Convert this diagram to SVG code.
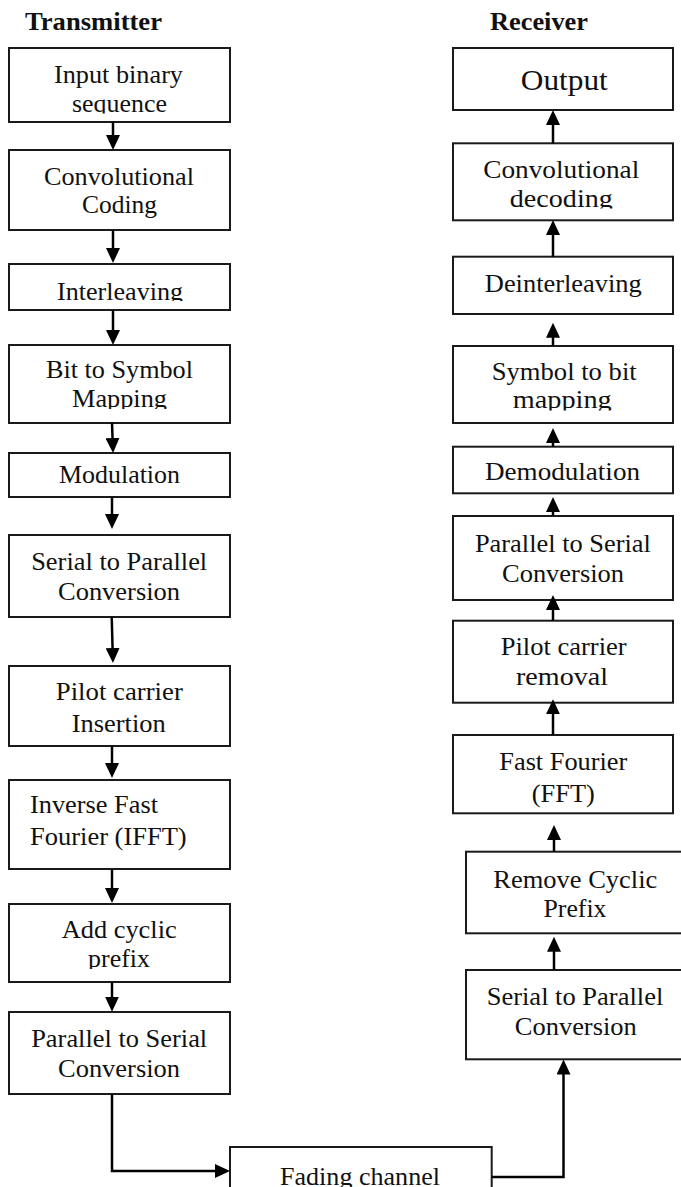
<svg xmlns="http://www.w3.org/2000/svg" width="681" height="1187" viewBox="0 0 681 1187">
<style>
.box{fill:#fff;stroke:#1a1a1a;stroke-width:2}
.t{font-family:"Liberation Serif","Times New Roman",serif;font-size:26px;fill:#111;text-anchor:middle}
.l{text-anchor:start}
.h{font-family:"Liberation Serif","Times New Roman",serif;font-size:26px;font-weight:bold;fill:#111}
.c{fill:none;stroke:#000;stroke-width:2.5;marker-end:url(#ah)}
</style>
<defs>
<marker id="ah" markerWidth="16" markerHeight="14" refX="5" refY="7" orient="auto" markerUnits="userSpaceOnUse"><path d="M0,0 L15,7 L0,14 z" fill="#000"/></marker>
<clipPath id="c1" clipPathUnits="userSpaceOnUse"><rect x="0" y="90" width="681" height="23.5"/></clipPath>
<clipPath id="c2" clipPathUnits="userSpaceOnUse"><rect x="0" y="185" width="681" height="23.5"/></clipPath>
<clipPath id="c3" clipPathUnits="userSpaceOnUse"><rect x="0" y="270" width="681" height="31"/></clipPath>
<clipPath id="c4" clipPathUnits="userSpaceOnUse"><rect x="0" y="385" width="681" height="24"/></clipPath>
<clipPath id="c5" clipPathUnits="userSpaceOnUse"><rect x="0" y="455" width="681" height="30"/></clipPath>
<clipPath id="c6" clipPathUnits="userSpaceOnUse"><rect x="0" y="385" width="681" height="25.5"/></clipPath>
<clipPath id="c7" clipPathUnits="userSpaceOnUse"><rect x="0" y="945" width="681" height="24"/></clipPath>
</defs>
<g id="headings">
<text class="h" x="25" y="30" textLength="137" lengthAdjust="spacingAndGlyphs">Transmitter</text>
<text class="h" x="490" y="30" textLength="98" lengthAdjust="spacingAndGlyphs">Receiver</text>
</g>
<g id="tx1"><rect class="box" x="9" y="48" width="221" height="74"/>
<text class="t" x="118.5" y="83.3" textLength="129" lengthAdjust="spacingAndGlyphs">Input binary</text>
<text class="t" x="119.5" y="111.5" textLength="95" lengthAdjust="spacingAndGlyphs" clip-path="url(#c1)">sequence</text></g>
<g id="tx2"><rect class="box" x="9" y="150" width="221" height="80"/>
<text class="t" x="119" y="185" textLength="150" lengthAdjust="spacingAndGlyphs">Convolutional</text>
<text class="t" x="119.5" y="213.3" textLength="75" lengthAdjust="spacingAndGlyphs">Coding</text></g>
<g id="tx3"><rect class="box" x="9" y="264" width="221" height="46"/>
<text class="t" x="120" y="300" textLength="126" lengthAdjust="spacingAndGlyphs" clip-path="url(#c3)">Interleaving</text></g>
<g id="tx4"><rect class="box" x="9" y="345" width="221" height="78"/>
<text class="t" x="119.5" y="378.3" textLength="147" lengthAdjust="spacingAndGlyphs">Bit to Symbol</text>
<text class="t" x="119.5" y="406.6" textLength="95" lengthAdjust="spacingAndGlyphs" clip-path="url(#c4)">Mapping</text></g>
<g id="tx5"><rect class="box" x="9" y="453" width="221" height="44"/>
<text class="t" x="119.5" y="483" textLength="121" lengthAdjust="spacingAndGlyphs" clip-path="url(#c5)">Modulation</text></g>
<g id="tx6"><rect class="box" x="9" y="535" width="221" height="82"/>
<text class="t" x="119.2" y="570" textLength="176" lengthAdjust="spacingAndGlyphs">Serial to Parallel</text>
<text class="t" x="119" y="600" textLength="122" lengthAdjust="spacingAndGlyphs">Conversion</text></g>
<g id="tx7"><rect class="box" x="9" y="666" width="221" height="80"/>
<text class="t" x="119.3" y="700" textLength="127" lengthAdjust="spacingAndGlyphs">Pilot carrier</text>
<text class="t" x="118.7" y="731.7" textLength="94" lengthAdjust="spacingAndGlyphs">Insertion</text></g>
<g id="tx8"><rect class="box" x="9" y="780" width="221" height="89"/>
<text class="t l" x="30" y="813" textLength="128" lengthAdjust="spacingAndGlyphs">Inverse Fast</text>
<text class="t l" x="30" y="845" textLength="156.7" lengthAdjust="spacingAndGlyphs">Fourier (IFFT)</text></g>
<g id="tx9"><rect class="box" x="9" y="904" width="221" height="78"/>
<text class="t" x="119.2" y="938" textLength="115" lengthAdjust="spacingAndGlyphs">Add cyclic</text>
<text class="t" x="119" y="966.5" textLength="62" lengthAdjust="spacingAndGlyphs" clip-path="url(#c7)">prefix</text></g>
<g id="tx10"><rect class="box" x="9" y="1012" width="221" height="82"/>
<text class="t" x="119.2" y="1046.7" textLength="176" lengthAdjust="spacingAndGlyphs">Parallel to Serial</text>
<text class="t" x="119" y="1076.7" textLength="122" lengthAdjust="spacingAndGlyphs">Conversion</text></g>
<g id="channel"><rect class="box" x="230" y="1147" width="261.7" height="60"/>
<text class="t" x="360" y="1185" textLength="160" lengthAdjust="spacingAndGlyphs">Fading channel</text></g>
<g id="rx1"><rect class="box" x="453" y="48" width="220" height="62"/>
<text class="t" x="564.3" y="90" style="font-size:30px" textLength="87" lengthAdjust="spacingAndGlyphs">Output</text></g>
<g id="rx2"><rect class="box" x="453" y="143.3" width="220" height="77"/>
<text class="t" x="561.3" y="178.3" textLength="156" lengthAdjust="spacingAndGlyphs">Convolutional</text>
<text class="t" x="561.3" y="206.7" textLength="103" lengthAdjust="spacingAndGlyphs" clip-path="url(#c2)">decoding</text></g>
<g id="rx3"><rect class="box" x="453" y="256.7" width="220" height="57.3"/>
<text class="t" x="563.3" y="291.7" textLength="157" lengthAdjust="spacingAndGlyphs">Deinterleaving</text></g>
<g id="rx4"><rect class="box" x="453" y="346" width="220" height="77"/>
<text class="t" x="564.2" y="380" textLength="145" lengthAdjust="spacingAndGlyphs">Symbol to bit</text>
<text class="t" x="562.2" y="408.3" textLength="99" lengthAdjust="spacingAndGlyphs" clip-path="url(#c6)">mapping</text></g>
<g id="rx5"><rect class="box" x="453" y="446.7" width="220" height="46.6"/>
<text class="t" x="562.5" y="480" textLength="155" lengthAdjust="spacingAndGlyphs">Demodulation</text></g>
<g id="rx6"><rect class="box" x="453" y="516" width="220" height="84"/>
<text class="t" x="562.9" y="551.7" textLength="176" lengthAdjust="spacingAndGlyphs">Parallel to Serial</text>
<text class="t" x="563" y="581.7" textLength="122" lengthAdjust="spacingAndGlyphs">Conversion</text></g>
<g id="rx7"><rect class="box" x="453" y="620.7" width="220" height="82"/>
<text class="t" x="563.7" y="655" textLength="126" lengthAdjust="spacingAndGlyphs">Pilot carrier</text>
<text class="t" x="562" y="685" textLength="92" lengthAdjust="spacingAndGlyphs">removal</text></g>
<g id="rx8"><rect class="box" x="453" y="735" width="220" height="78.3"/>
<text class="t" x="563.3" y="770" textLength="128" lengthAdjust="spacingAndGlyphs">Fast Fourier</text>
<text class="t" x="563.3" y="801.7" textLength="63" lengthAdjust="spacingAndGlyphs">(FFT)</text></g>
<g id="rx9"><rect class="box" x="466" y="851.7" width="220" height="81.6"/>
<text class="t" x="575.3" y="887.7" textLength="164" lengthAdjust="spacingAndGlyphs">Remove Cyclic</text>
<text class="t" x="575" y="916.7" textLength="63" lengthAdjust="spacingAndGlyphs">Prefix</text></g>
<g id="rx10"><rect class="box" x="466" y="970" width="220" height="89.3"/>
<text class="t" x="575" y="1005" textLength="176.6" lengthAdjust="spacingAndGlyphs">Serial to Parallel</text>
<text class="t" x="575.8" y="1035" textLength="122" lengthAdjust="spacingAndGlyphs">Conversion</text></g>
<g id="connectors">
<path class="c" d="M113,121.7 V140"/>
<path class="c" d="M113,230 V253"/>
<path class="c" d="M113,310 V335"/>
<path class="c" d="M112,422.7 L112.7,443"/>
<path class="c" d="M112,496.7 V519"/>
<path class="c" d="M111.7,616.7 L112.7,653"/>
<path class="c" d="M112,745.7 V768"/>
<path class="c" d="M112,869 V893"/>
<path class="c" d="M112,981.7 V1001.7"/>
<path class="c" d="M112,1094 V1171 H220"/>
<path class="c" d="M491.7,1177 H563.5 V1069.5"/>
<path class="c" d="M553,143.3 V120"/>
<path class="c" d="M553,256.7 V230"/>
<path class="c" d="M553,346 V332.7"/>
<path class="c" d="M553,446.7 V438"/>
<path class="c" d="M553,516 V507"/>
<path class="c" d="M553,620.7 V605"/>
<path class="c" d="M553,735 V709.3"/>
<path class="c" d="M554,851.7 V835"/>
<path class="c" d="M554,970 V946.7"/>
</g>
</svg>
